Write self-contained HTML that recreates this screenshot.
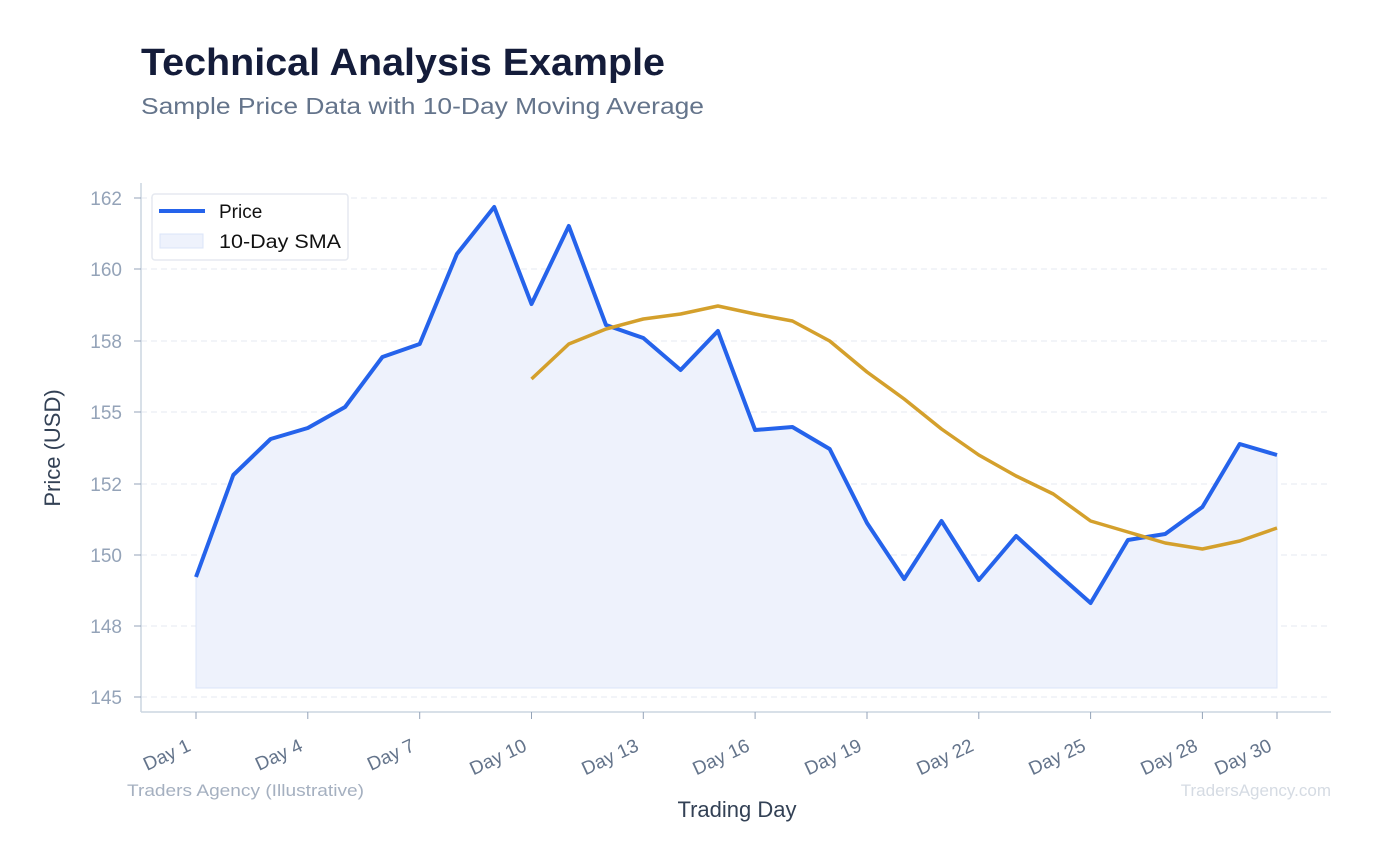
<!DOCTYPE html>
<html><head><meta charset="utf-8"><style>
html,body{margin:0;padding:0;background:#fff;}
svg{display:block;font-family:"Liberation Sans",sans-serif;}
</style></head><body>
<svg width="1376" height="867" viewBox="0 0 1376 867" xmlns="http://www.w3.org/2000/svg">
<text x="141" y="75" font-size="38" font-weight="bold" fill="#141c3a" textLength="524" lengthAdjust="spacingAndGlyphs">Technical Analysis Example</text>
<text x="141" y="114" font-size="23" fill="#64748b" textLength="563" lengthAdjust="spacingAndGlyphs">Sample Price Data with 10-Day Moving Average</text>
<g stroke="#e5e9f0" stroke-dasharray="6,4" stroke-width="1">
<line x1="141" x2="1331" y1="198" y2="198"/><line x1="141" x2="1331" y1="269" y2="269"/>
<line x1="141" x2="1331" y1="341" y2="341"/><line x1="141" x2="1331" y1="412" y2="412"/>
<line x1="141" x2="1331" y1="484" y2="484"/><line x1="141" x2="1331" y1="555" y2="555"/>
<line x1="141" x2="1331" y1="626" y2="626"/><line x1="141" x2="1331" y1="697" y2="697"/>
</g>
<polygon fill="#eef2fc" stroke="#dbe4f8" stroke-width="1" points="196,688 196,577 233.3,475 270.6,439 307.8,428 345.1,407 382.4,357 419.7,344 456.9,254 494.2,207 531.5,304 568.8,226 606,325 643.3,338 680.6,370 717.9,331 755.1,430 792.4,427 829.7,449 867,523 904.2,579 941.5,521 978.8,580 1016.1,536 1053.3,570 1090.6,603 1127.9,540 1165.2,534 1202.4,507 1239.7,444 1277,455 1277,688"/>
<polyline fill="none" stroke="#2563eb" stroke-width="4" stroke-linejoin="round" points="196,577 233.3,475 270.6,439 307.8,428 345.1,407 382.4,357 419.7,344 456.9,254 494.2,207 531.5,304 568.8,226 606,325 643.3,338 680.6,370 717.9,331 755.1,430 792.4,427 829.7,449 867,523 904.2,579 941.5,521 978.8,580 1016.1,536 1053.3,570 1090.6,603 1127.9,540 1165.2,534 1202.4,507 1239.7,444 1277,455"/>
<polyline fill="none" stroke="#d4a02c" stroke-width="3.5" stroke-linejoin="round" points="531.5,379 568.8,344 606,329 643.3,319 680.6,314 717.9,306 755.1,314 792.4,321 829.7,341 867,372 904.2,399 941.5,429 978.8,455 1016.1,476 1053.3,494 1090.6,521 1127.9,532 1165.2,543 1202.4,549 1239.7,541 1277,528"/>
<g stroke="#cbd5e1" stroke-width="1.5">
<line x1="141" y1="183" x2="141" y2="712"/><line x1="141" y1="712" x2="1331" y2="712"/>
</g>
<g stroke="#94a3b8" stroke-width="1">
<line x1="134" x2="141" y1="198" y2="198"/><line x1="134" x2="141" y1="269" y2="269"/><line x1="134" x2="141" y1="341" y2="341"/><line x1="134" x2="141" y1="412" y2="412"/><line x1="134" x2="141" y1="484" y2="484"/><line x1="134" x2="141" y1="555" y2="555"/><line x1="134" x2="141" y1="626" y2="626"/><line x1="134" x2="141" y1="697" y2="697"/>
<line x1="196" x2="196" y1="712" y2="719"/><line x1="307.8" x2="307.8" y1="712" y2="719"/><line x1="419.7" x2="419.7" y1="712" y2="719"/><line x1="531.5" x2="531.5" y1="712" y2="719"/><line x1="643.3" x2="643.3" y1="712" y2="719"/><line x1="755.1" x2="755.1" y1="712" y2="719"/><line x1="867" x2="867" y1="712" y2="719"/><line x1="978.8" x2="978.8" y1="712" y2="719"/><line x1="1090.6" x2="1090.6" y1="712" y2="719"/><line x1="1202.4" x2="1202.4" y1="712" y2="719"/><line x1="1277" x2="1277" y1="712" y2="719"/>
</g>
<g font-size="19" fill="#94a3b8" text-anchor="end">
<text x="122" y="205">162</text><text x="122" y="276">160</text><text x="122" y="348">158</text><text x="122" y="419">155</text><text x="122" y="491">152</text><text x="122" y="562">150</text><text x="122" y="633">148</text><text x="122" y="704">145</text>
</g>
<g font-size="19" fill="#64748b" text-anchor="end">
<text transform="translate(192,750) rotate(-25)">Day 1</text>
<text transform="translate(304,750) rotate(-25)">Day 4</text>
<text transform="translate(416,750) rotate(-25)">Day 7</text>
<text transform="translate(528,750) rotate(-25)">Day 10</text>
<text transform="translate(640,750) rotate(-25)">Day 13</text>
<text transform="translate(751,750) rotate(-25)">Day 16</text>
<text transform="translate(863,750) rotate(-25)">Day 19</text>
<text transform="translate(975,750) rotate(-25)">Day 22</text>
<text transform="translate(1087,750) rotate(-25)">Day 25</text>
<text transform="translate(1199,750) rotate(-25)">Day 28</text>
<text transform="translate(1273,750) rotate(-25)">Day 30</text>
</g>
<text x="737" y="817" font-size="22" fill="#334155" text-anchor="middle">Trading Day</text>
<text transform="translate(60,448) rotate(-90)" font-size="22" fill="#334155" text-anchor="middle">Price (USD)</text>
<text x="127" y="796" font-size="17" fill="#a5b0c0" textLength="237" lengthAdjust="spacingAndGlyphs">Traders Agency (Illustrative)</text>
<text x="1331" y="796" font-size="17" fill="#d5dbe3" text-anchor="end">TradersAgency.com</text>
<rect x="152" y="194" width="196" height="66" rx="3" fill="#fff" stroke="#e5e9f0" stroke-width="1.5"/>
<line x1="159" y1="211" x2="205" y2="211" stroke="#2563eb" stroke-width="4"/>
<text x="219" y="218" font-size="19" fill="#111">Price</text>
<rect x="160" y="234" width="43" height="14" fill="#eef2fc" stroke="#dbe4f8"/>
<text x="219" y="248" font-size="19" fill="#111" textLength="122" lengthAdjust="spacingAndGlyphs">10-Day SMA</text>
</svg>
</body></html>
